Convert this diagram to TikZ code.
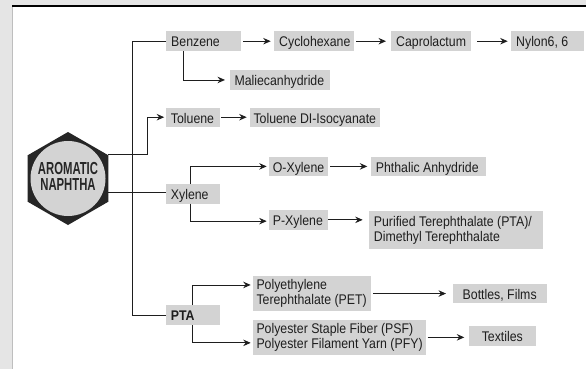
\documentclass[tikz,border=0pt]{standalone}
\usepackage{fontspec}
\setmainfont{Liberation Sans}[FakeStretch=0.88]
\newfontfamily\hexfont{Liberation Sans}[FakeStretch=0.65]
\usetikzlibrary{arrows.meta,calc}
\definecolor{bggray}{HTML}{E5E5E5}
\definecolor{boxgray}{HTML}{D3D3D3}
\definecolor{edgegray}{HTML}{BEBEBE}
\definecolor{ink}{HTML}{1E1E1E}
\definecolor{hexdark}{HTML}{262626}
\newcommand\Lbx[2]{\makebox[#1][l]{#2}}
\newcommand\Cbx[2]{\makebox[#1][c]{#2}}
\tikzset{
  bx/.style={fill=boxgray, anchor=north west, inner xsep=5pt, inner ysep=0pt,
    align=left, text=ink, font=\fontsize{14}{15}\selectfont,
    text height=11.6pt, text depth=0pt},
  bxtwo/.style={fill=boxgray, anchor=north west, inner xsep=5pt, inner ysep=0pt,
    align=left, text=ink, font=\fontsize{14}{15}\selectfont},
  ln/.style={draw=ink, line width=0.9pt},
  arr/.style={ln, -{Stealth[length=7.5pt,width=6.5pt,inset=2.5pt]}, shorten >=3pt},
}
\begin{document}
\begin{tikzpicture}[x=1pt,y=-1pt]
\useasboundingbox (0,0) rectangle (586,369);
\fill[bggray] (0,0) rectangle (586,369);
\fill[white] (12.5,6) rectangle (586,369);
\draw[edgegray, line width=1pt] (12.5,6) -- (12.5,369);
\draw[black, line width=1.3pt] (12,6) -- (586,6);

% hexagon
\fill[hexdark] (68,178.5) +(90:46.5) -- +(150:46.5) -- +(210:46.5) -- +(270:46.5) -- +(330:46.5) -- +(30:46.5) -- cycle;
\node[circle, fill=boxgray, minimum size=75pt, inner sep=0pt] (naph) at (68,178.5) {};
\node[font=\hexfont\bfseries\fontsize{17.4}{16.7}\selectfont, align=center, text=hexdark, inner sep=0pt] (naphtxt) at (68,176.3) {AROMATIC\\NAPHTHA};

% boxes
\node[bx, minimum height=20pt] (benz) at (166,31) {\Lbx{65pt}{Benzene}};
\node[bx, minimum height=20pt] (cyc) at (274,31) {\Lbx{70pt}{Cyclohexane}};
\node[bx, minimum height=20pt] (capro) at (391,31) {\Lbx{70pt}{Caprolactum}};
\node[bx, minimum height=20pt] (nylon) at (511,31) {\Lbx{63pt}{Nylon6, 6}};
\node[bx, minimum height=19.5pt] (malie) at (229.3,70) {\Lbx{90pt}{Maliecanhydride}};
\node[bx, minimum height=19.4pt] (tol) at (165.7,107.3) {\Lbx{44.3pt}{Toluene}};
\node[bx, minimum height=19.4pt, inner xsep=4pt] (tdi) at (249.3,107.3) {\Lbx{122.7pt}{Toluene DI-Isocyanate}};
\node[bx, minimum height=19.3pt] (xyl) at (165.7,184) {\Lbx{44.3pt}{Xylene}};
\node[bx, minimum height=19pt, inner xsep=4pt] (oxyl) at (268.7,156.7) {\Lbx{51pt}{O-Xylene}};
\node[bx, minimum height=19pt] (phth) at (370.7,156.7) {\Lbx{105.3pt}{Phthalic Anhydride}};
\node[bx, minimum height=19.3pt, inner xsep=4pt] (pxyl) at (268.7,210) {\Lbx{51pt}{P-Xylene}};
\node[bxtwo, minimum height=38pt] (pur) at (368.7,210.7) {\Lbx{164pt}{Purified Terephthalate (PTA)/}\\\Lbx{164pt}{Dimethyl Terephthalate}};
\node[bx, minimum height=19.7pt, font=\bfseries\fontsize{14}{15}\selectfont] (pta) at (165.7,305) {\Lbx{44.3pt}{PTA}};
\node[bxtwo, minimum height=34.7pt, inner xsep=4pt] (pet) at (252.3,276) {\Lbx{110.4pt}{Polyethylene}\\\Lbx{110.4pt}{Terephthalate (PET)}};
\node[bx, minimum height=19.4pt] (bot) at (452.3,283.3) {\Cbx{84.4pt}{Bottles, Films}};
\node[bxtwo, minimum height=34.3pt, inner xsep=4pt] (psf) at (252.3,320) {\Lbx{165.7pt}{Polyester Staple Fiber (PSF)}\\\Lbx{165.7pt}{Polyester Filament Yarn (PFY)}};
\node[bx, minimum height=19.7pt] (tex) at (468.3,326) {\Cbx{57.7pt}{Textiles}};

% connectors
\coordinate (h1) at (108,154.3);
\coordinate (h2) at (108,192.7);
\draw[ln] (benz.west) -- ++(-33.3,0) |- (pta.west);
\draw[ln] (h2) -- (h2 -| xyl.west);
\draw[arr, shorten <=1.7pt, shorten >=3.3pt] (benz) -- (cyc);
\draw[arr, shorten <=2pt, shorten >=5pt] (cyc) -- (capro);
\draw[arr, shorten <=6pt, shorten >=3.3pt] (capro) -- (nylon);
\draw[arr, shorten >=4.3pt] ([xshift=17.7pt]benz.south west) |- (malie.west);
\draw[arr, shorten >=1.5pt] (h1) -- ++(39,0) |- (tol.west);
\draw[arr, shorten <=1pt, shorten >=2.6pt] (tol) -- (tdi);
\draw[arr, shorten >=2pt] ([xshift=24.6pt]xyl.north west) |- (oxyl.west);
\draw[arr, shorten >=2pt] ([xshift=24.6pt]xyl.south west) |- ([yshift=-1.3pt]pxyl.west);
\draw[arr, shorten <=2.3pt, shorten >=3.4pt] (oxyl) -- (phth);
\draw[arr, shorten >=6pt] (pxyl.east) -- (pxyl.east -| pur.west);
\draw[arr, shorten >=1.6pt] ([xshift=27pt]pta.north west) |- ([yshift=8.6pt]pet.west);
\draw[arr, shorten >=1.6pt] ([xshift=27pt]pta.south west) |- ([yshift=-5.5pt]psf.west);
\draw[arr, shorten <=2pt, shorten >=6.3pt] (pet.east) -- (pet.east -| bot.west);
\draw[arr, shorten <=1.3pt, shorten >=4pt] (psf.east) -- (psf.east -| tex.west);
\end{tikzpicture}
\end{document}
